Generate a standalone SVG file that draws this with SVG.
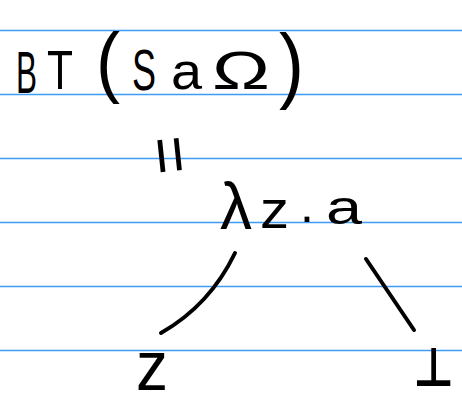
<svg xmlns="http://www.w3.org/2000/svg" width="462" height="405" viewBox="0 0 462 405">
<style>
.rule{stroke:#3d9cf5;stroke-width:1.5}
.t{font-family:"Liberation Sans","DejaVu Sans",sans-serif;fill:#000}
.c{fill:none;stroke:#000;stroke-width:4;stroke-linecap:round}
</style>
<rect width="462" height="405" fill="#fff"/>
<g id="paper">
<line class="rule" x1="0" y1="30.5" x2="462" y2="30.5"/>
<line class="rule" x1="0" y1="94.5" x2="462" y2="94.5"/>
<line class="rule" x1="0" y1="158.5" x2="462" y2="158.5"/>
<line class="rule" x1="0" y1="222.5" x2="462" y2="222.5"/>
<line class="rule" x1="0" y1="286.5" x2="462" y2="286.5"/>
<line class="rule" x1="0" y1="350.5" x2="462" y2="350.5"/>
</g>
<g id="root">
<text class="t" x="16" y="93" font-size="60" textLength="21" lengthAdjust="spacingAndGlyphs">B</text>
<text class="t" x="47" y="89" font-size="56" textLength="26" lengthAdjust="spacingAndGlyphs">T</text>
<text class="t" x="96" y="88" font-size="78" textLength="24" lengthAdjust="spacingAndGlyphs">(</text>
<text class="t" x="132" y="90" font-size="58" textLength="24" lengthAdjust="spacingAndGlyphs">S</text>
<text class="t" x="171" y="89" font-size="52" textLength="31" lengthAdjust="spacingAndGlyphs">a</text>
<text class="t" x="212" y="89" font-size="54" textLength="58" lengthAdjust="spacingAndGlyphs">Ω</text>
<text class="t" x="279" y="93" font-size="84" textLength="25" lengthAdjust="spacingAndGlyphs">)</text>
</g>
<g id="equals" transform="translate(172,155) rotate(84)">
<text class="t" x="0" y="24" font-size="66" text-anchor="middle">=</text>
</g>
<g id="lambda">
<text class="t" x="220" y="229" font-size="66" textLength="32" lengthAdjust="spacingAndGlyphs">λ</text>
<text class="t" x="260" y="228" font-size="54" textLength="29" lengthAdjust="spacingAndGlyphs">z</text>
<text class="t" x="300" y="222" font-size="50">.</text>
<text class="t" x="326" y="224" font-size="48" textLength="36" lengthAdjust="spacingAndGlyphs">a</text>
</g>
<g id="leaf-z">
<text class="t" x="136" y="390" font-size="70" textLength="32" lengthAdjust="spacingAndGlyphs">z</text>
</g>
<g id="leaf-bottom">
<text class="t" x="413" y="386" font-size="54" font-weight="bold" textLength="41" lengthAdjust="spacingAndGlyphs" style="font-family:'DejaVu Sans',sans-serif">⊥</text>
</g>
<g id="connectors">
<path class="c" d="M235,253 Q210,305 161,333"/>
<path class="c" d="M366,259 L414,330"/>
</g>
</svg>
